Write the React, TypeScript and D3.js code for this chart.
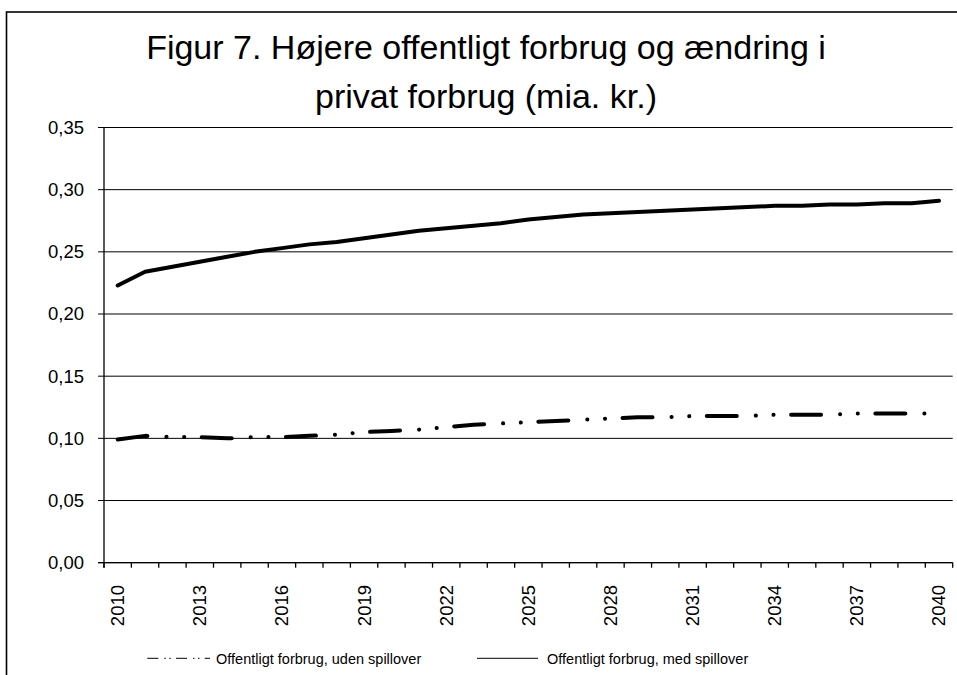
import React from "react";
import * as d3 from "d3";

const years: number[] = d3.range(2010, 2041);
const seriesUden: number[] = [
  0.099, 0.102, 0.101, 0.101, 0.100, 0.101, 0.101, 0.102, 0.103, 0.105,
  0.106, 0.107, 0.109, 0.111, 0.112, 0.113, 0.114, 0.115, 0.116, 0.117,
  0.117, 0.118, 0.118, 0.118, 0.119, 0.119, 0.119, 0.120, 0.120, 0.120, 0.120,
];
const seriesMed: number[] = [
  0.223, 0.234, 0.238, 0.242, 0.246, 0.250, 0.253, 0.256, 0.258, 0.261,
  0.264, 0.267, 0.269, 0.271, 0.273, 0.276, 0.278, 0.280, 0.281, 0.282,
  0.283, 0.284, 0.285, 0.286, 0.287, 0.287, 0.288, 0.288, 0.289, 0.289, 0.291,
];
const yTicks: number[] = [0, 0.05, 0.1, 0.15, 0.2, 0.25, 0.3, 0.35];
const xLabelYears: number[] = [2010, 2013, 2016, 2019, 2022, 2025, 2028, 2031, 2034, 2037, 2040];
const titleLines: string[] = ["Figur 7. Højere offentligt forbrug og ændring i", "privat forbrug (mia. kr.)"];
const legendLabels: string[] = ["Offentligt forbrug, uden spillover", "Offentligt forbrug, med spillover"];

const W = 957;
const H = 675;
const left = 104;
const right = 952.7;
const top = 127.5;
const bottom = 562.7;
const FONT = "'Liberation Sans', Arial, sans-serif";

export default function App() {
  const x = d3.scaleBand<number>().domain(years).range([left, right]).padding(0);
  const cx = (yr: number) => (x(yr) as number) + x.bandwidth() / 2;
  const y = d3.scaleLinear().domain([0, 0.35]).range([bottom, top]);
  const fmt = (v: number) => d3.format(".2f")(v).replace(".", ",");

  const line = d3
    .line<number>()
    .x((_, i) => cx(years[i]))
    .y((d) => y(d));

  const boundaries = d3.range(years.length + 1).map((i) => left + i * x.bandwidth());

  return (
    <svg width={W} height={H} style={{ position: "absolute", left: 0, top: 0 }} fontFamily={FONT}>
      <rect x={0} y={0} width={W} height={H} fill="#fff" />
      <rect x={6.5} y={12} width={1000} height={800} fill="none" stroke="#000" strokeWidth={1.6} />

      {titleLines.map((t, i) => (
        <text key={i} x={486} y={59 + i * 49} textAnchor="middle" fontSize={34} fill="#000">
          {t}
        </text>
      ))}

      {/* gridlines */}
      {yTicks.map((t) => (
        <line key={t} x1={left - 6} x2={right} y1={y(t)} y2={y(t)} stroke="#000" strokeWidth={1} />
      ))}
      {yTicks.map((t) => (
        <text key={"l" + t} x={84} y={y(t)} dy="0.35em" textAnchor="end" fontSize={18.5} fill="#000">
          {fmt(t)}
        </text>
      ))}

      {/* axes */}
      <line x1={left} x2={left} y1={top} y2={bottom + 5} stroke="#000" strokeWidth={1.3} />
      <line x1={left - 6} x2={right} y1={bottom} y2={bottom} stroke="#000" strokeWidth={1.3} />
      {boundaries.map((b, i) => (
        <line key={i} x1={b} x2={b} y1={bottom} y2={bottom + 5} stroke="#000" strokeWidth={1.3} />
      ))}
      {xLabelYears.map((yr) => (
        <text
          key={yr}
          transform={`translate(${cx(yr)},585) rotate(-90)`}
          dy="0.35em"
          textAnchor="end"
          fontSize={18.5}
          fill="#000"
        >
          {yr}
        </text>
      ))}

      {/* series */}
      <path
        d={line(seriesUden) || ""}
        fill="none"
        stroke="#000"
        strokeWidth={4}
        strokeLinecap="round"
        strokeLinejoin="round"
        strokeDasharray="30 19 0.1 17.6 0.1 17.5"
      />
      <path
        d={line(seriesMed) || ""}
        fill="none"
        stroke="#000"
        strokeWidth={4}
        strokeLinecap="round"
        strokeLinejoin="round"
      />

      {/* legend */}
      <line x1={147.3} x2={210} y1={658.3} y2={658.3} stroke="#000" strokeWidth={1} strokeDasharray="11 6 1.5 3.5 1.5 5.2" />
      <text x={216} y={658.5} dy="0.35em" fontSize={14.5} fill="#000">
        {legendLabels[0]}
      </text>
      <line x1={477} x2={538} y1={658.3} y2={658.3} stroke="#000" strokeWidth={1} />
      <text x={547} y={658.5} dy="0.35em" fontSize={14.5} fill="#000">
        {legendLabels[1]}
      </text>
    </svg>
  );
}
